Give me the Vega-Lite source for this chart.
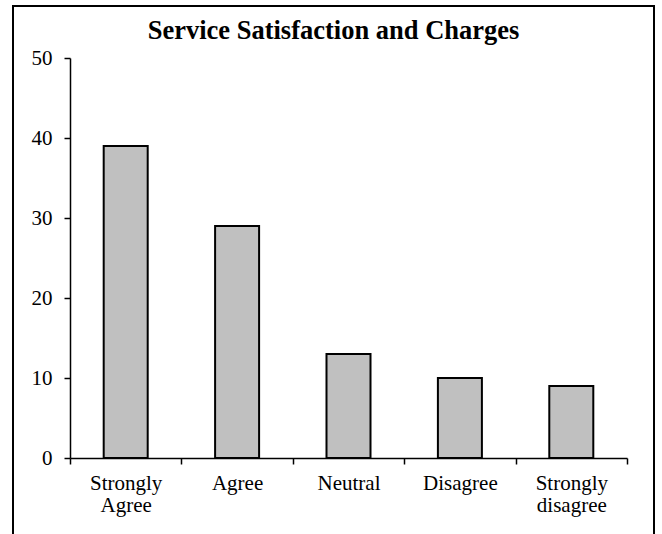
{
  "$schema": "https://vega.github.io/schema/vega-lite/v6.json",
  "autosize": {"type": "none"},
  "padding": {"left": 13, "top": 6, "right": 8, "bottom": -12},
  "width": 641,
  "height": 540,
  "background": "white",
  "title": {
    "text": "Service Satisfaction and Charges",
    "font": "Liberation Serif",
    "fontSize": 26.5,
    "fontWeight": "bold",
    "color": "black",
    "anchor": "middle",
    "frame": "group",
    "baseline": "alphabetic",
    "offset": -59
  },
  "config": {
    "view": {"stroke": "black", "strokeWidth": 2},
    "axis": {
      "labelFont": "Liberation Serif",
      "labelFontSize": 21,
      "labelColor": "black",
      "domainColor": "black",
      "domainWidth": 1.5,
      "tickColor": "black",
      "tickWidth": 1.5,
      "tickSize": 6,
      "grid": false,
      "title": null
    }
  },
  "data": {
    "values": [
      {"response": "Strongly Agree", "count": 39},
      {"response": "Agree", "count": 29},
      {"response": "Neutral", "count": 13},
      {"response": "Disagree", "count": 10},
      {"response": "Strongly disagree", "count": 9}
    ]
  },
  "mark": {"type": "bar", "fill": "#c0c0c0", "stroke": "black", "strokeWidth": 2, "width": {"band": 0.395}},
  "encoding": {
    "x": {
      "field": "response",
      "type": "nominal",
      "sort": null,
      "scale": {"range": [57, 614], "paddingInner": 0, "paddingOuter": 0},
      "axis": {
        "orient": "bottom",
        "offset": -88,
        "labelAngle": 0,
        "tickBand": "extent",
        "labelPadding": 8,
        "labelLineHeight": 22,
        "labelBaseline": "top",
        "labelExpr": "split(datum.label, ' ')"
      }
    },
    "y": {
      "field": "count",
      "type": "quantitative",
      "scale": {"domain": [0, 50], "range": [452, 52], "nice": false},
      "axis": {
        "orient": "left",
        "offset": -57,
        "values": [0, 10, 20, 30, 40, 50],
        "labelPadding": 12
      }
    }
  }
}
